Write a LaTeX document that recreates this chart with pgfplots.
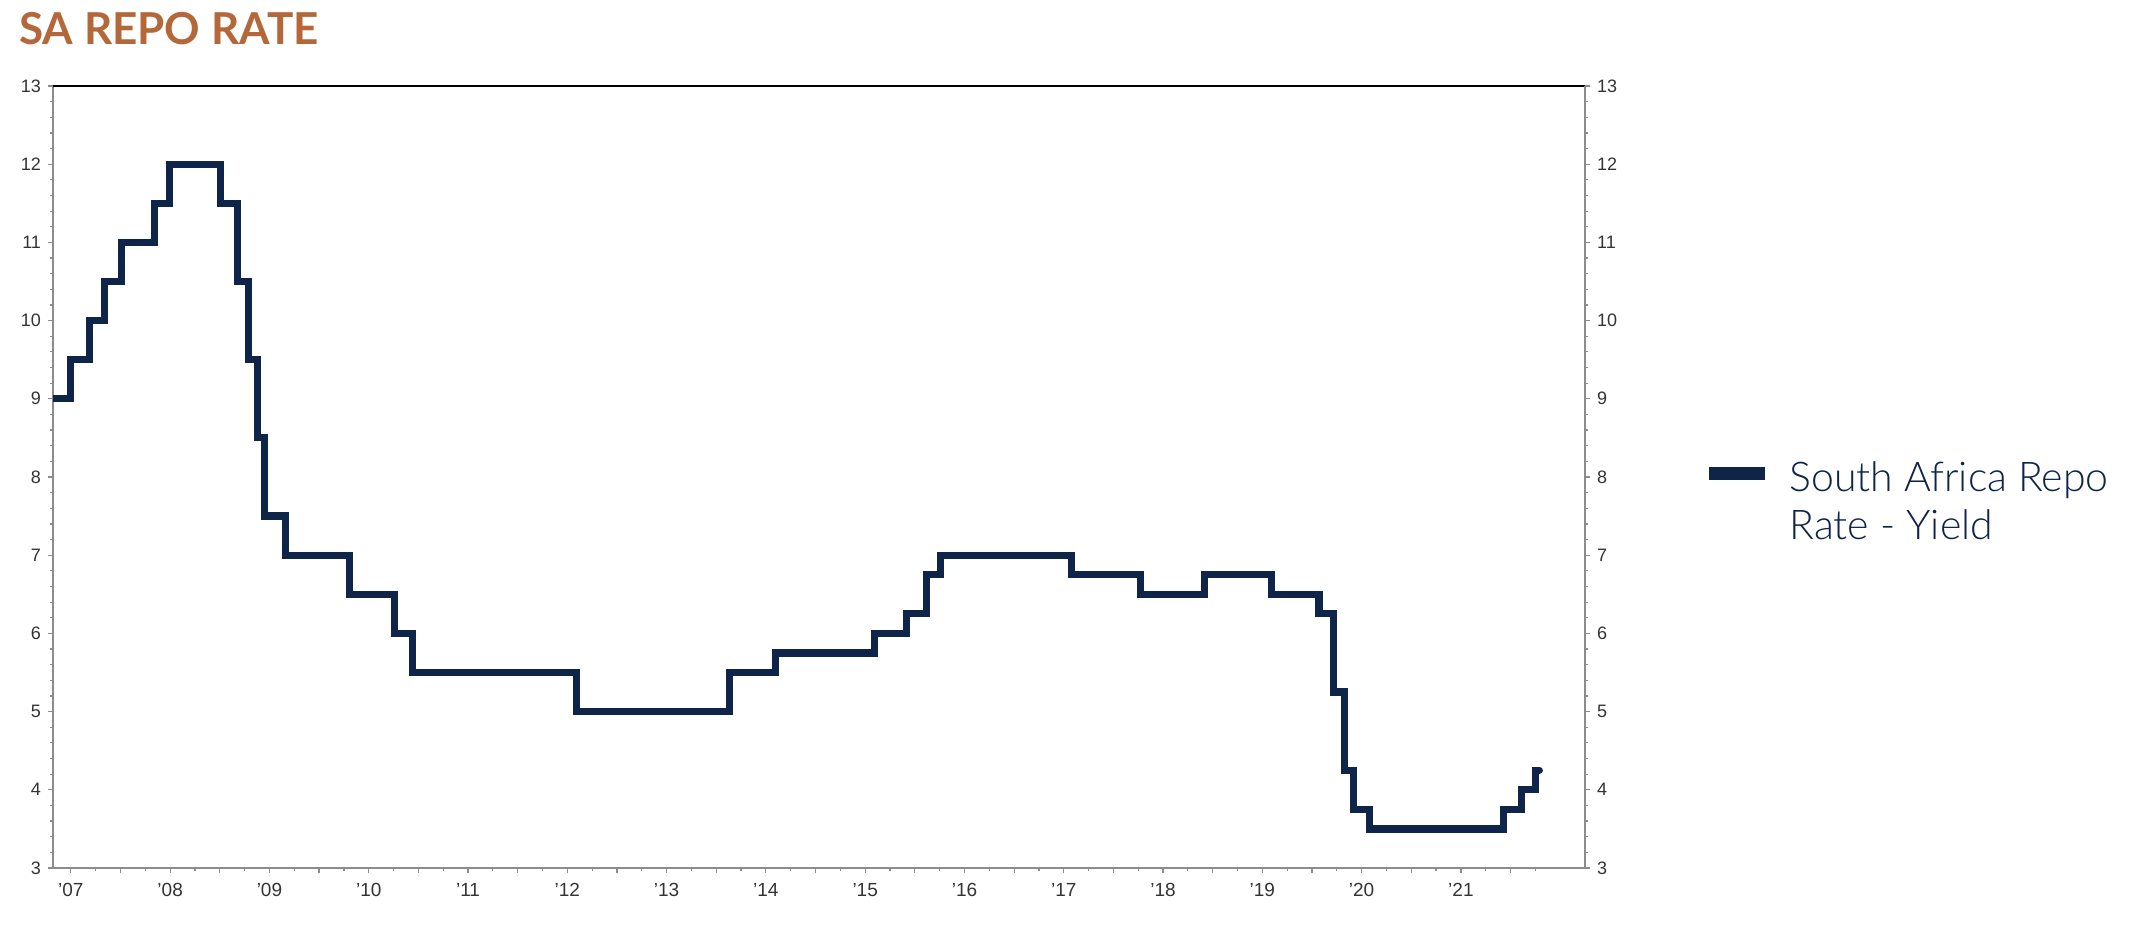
\documentclass[border=0pt]{standalone}
\usepackage{fontspec}
\setmainfont{Liberation Sans}
\newfontfamily\latofont{Lato}
\newfontfamily\latolight{Lato}[UprightFont={* Light}]
\usepackage{pgfplots}
\pgfplotsset{compat=1.18}
\definecolor{navy}{HTML}{0F2449}
\definecolor{titlec}{HTML}{B4683A}
\definecolor{tickc}{HTML}{333333}
\definecolor{axisc}{HTML}{8C8C8C}
\pgfplotstableread{
t v
2007.32 9.0
2007.50 9.5
2007.69 10.0
2007.84 10.5
2008.01 11.0
2008.34 11.5
2008.49 12.0
2009.01 11.5
2009.18 10.5
2009.29 9.5
2009.38 8.5
2009.45 7.5
2009.66 7.0
2010.31 6.5
2010.76 6.0
2010.94 5.5
2012.59 5.0
2014.13 5.5
2014.60 5.75
2015.59 6.0
2015.92 6.25
2016.12 6.75
2016.26 7.0
2017.58 6.75
2018.27 6.5
2018.92 6.75
2019.59 6.5
2020.07 6.25
2020.22 5.25
2020.33 4.25
2020.42 3.75
2020.58 3.5
2021.93 3.75
2022.11 4.0
2022.25 4.25
2022.29 4.25
}\repo
\begin{document}
\begin{tikzpicture}
\path[use as bounding box] (0,0) rectangle (1070.5pt,471.5pt);
\pgfplotsset{
 common/.style={
  at={(26.5pt,37.5pt)}, anchor=south west,
  scale only axis, width=766pt, height=391pt,
  xmin=2007.32, xmax=2022.75, ymin=3, ymax=13,
  ytick={3,...,13}, minor y tick num=4,
  tick align=outside,
  major tick length=2.5pt, minor tick length=1.5pt,
  every tick/.style={axisc, line width=0.6pt},
  axis line style={axisc, line width=0.8pt},
  ticklabel style={font=\fontsize{9}{10}\selectfont, text=tickc},
  /pgf/number format/assume math mode=true,
 }
}
\begin{axis}[common, axis x line*=bottom, axis y line*=left,
  xtick={2007.5,2008.5,2009.5,2010.5,2011.5,2012.5,2013.5,2014.5,2015.5,2016.5,2017.5,2018.5,2019.5,2020.5,2021.5},
  xticklabels={'07,'08,'09,'10,'11,'12,'13,'14,'15,'16,'17,'18,'19,'20,'21},
  extra x ticks={2008,2009,2010,2011,2012,2013,2014,2015,2016,2017,2018,2019,2020,2021,2022},
  extra x tick labels={},
  minor xtick={2007.75,2008.25,2008.75,2009.25,2009.75,2010.25,2010.75,2011.25,2011.75,2012.25,2012.75,2013.25,2013.75,2014.25,2014.75,2015.25,2015.75,2016.25,2016.75,2017.25,2017.75,2018.25,2018.75,2019.25,2019.75,2020.25,2020.75,2021.25,2021.75,2022.25},
  xticklabel style={font=\fontsize{9.5}{10}\selectfont, yshift=-1.5pt},
  clip=true]
\addplot[const plot, navy, line width=3.6pt, line join=miter, line cap=round] table[x=t, y=v] {\repo};
\draw[black, line width=0.8pt] (rel axis cs:0,1) -- (rel axis cs:1,1);
\end{axis}
\begin{axis}[common, axis y line*=right, axis x line=none, xtick=\empty]
\end{axis}
\draw[navy, line width=6.5pt] (854.5pt,234.5pt) -- (882.5pt,234.5pt);
\node[anchor=base west, inner sep=0, font=\latolight\fontsize{20.5}{24}\selectfont, text=navy] at (894.5pt,225.5pt) {South Africa Repo};
\node[anchor=base west, inner sep=0, font=\latolight\fontsize{20.5}{24}\selectfont, text=navy] at (894.5pt,201.5pt) {Rate - Yield};
\node[anchor=base west, inner sep=0, font=\latofont\bfseries\fontsize{22}{24}\selectfont, text=titlec] at (9.5pt,449pt) {SA REPO RATE};
\end{tikzpicture}
\end{document}
